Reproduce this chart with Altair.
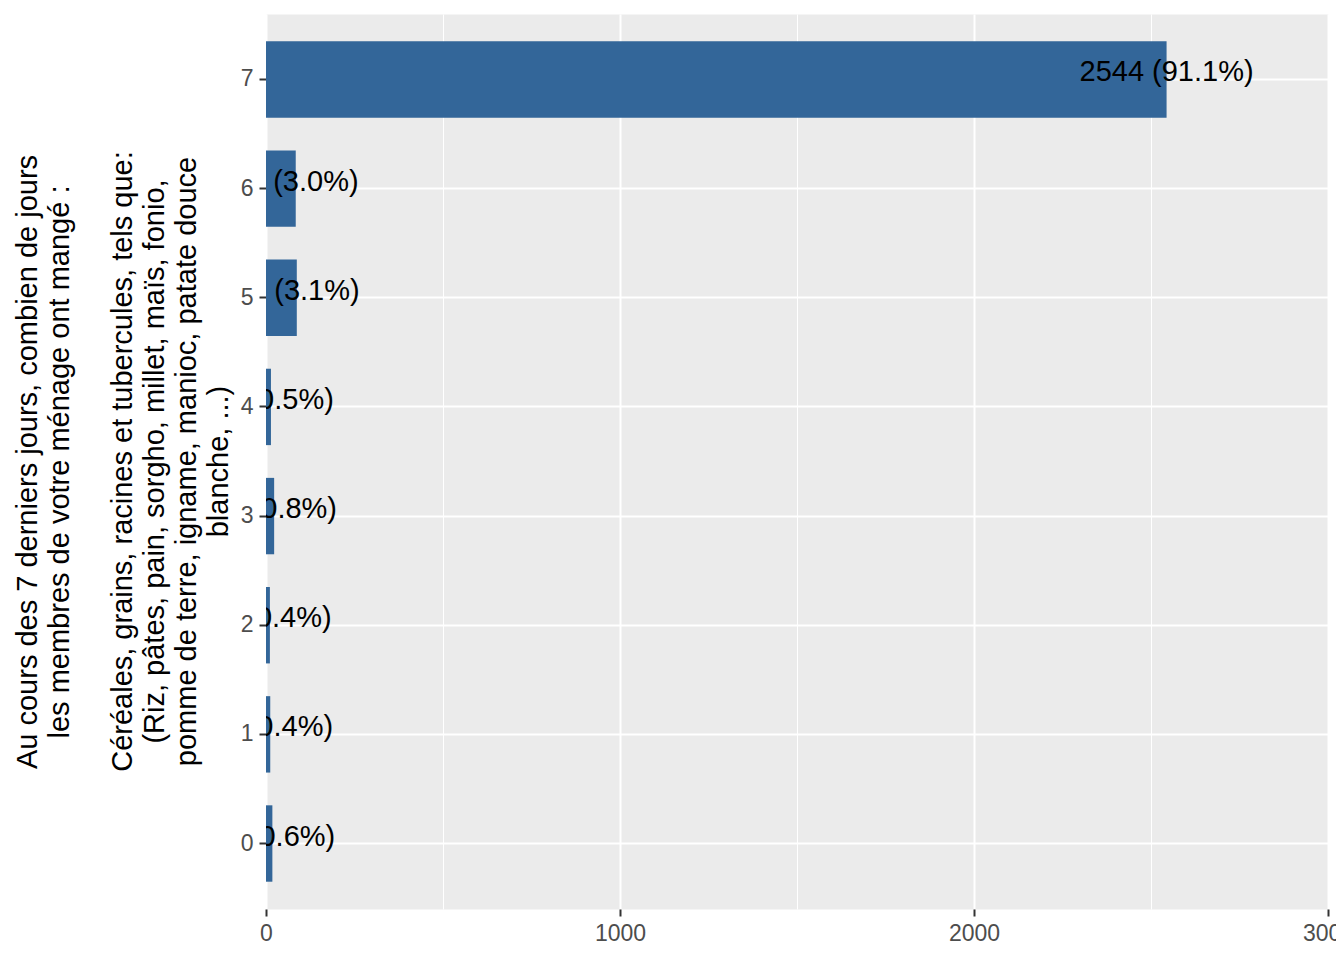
import altair as alt
import pandas as pd

days = ["0", "1", "2", "3", "4", "5", "6", "7"]
counts = [18, 12, 11, 23, 14, 87, 84, 2544]
major_ticks = [0, 1000, 2000, 3000]
minor_ticks = [500, 1500, 2500]
title_question = [
    "Au cours des 7 derniers jours, combien de jours",
    "les membres de votre ménage ont mangé :",
]
title_group = [
    "Céréales, grains, racines et tubercules, tels que:",
    "(Riz, pâtes, pain, sorgho, millet, maïs, fonio,",
    "pomme de terre, igname, manioc, patate douce",
    "blanche, ...)",
]

total = sum(counts)
labels = [f"{c} ({c / total * 100:.1f}%)" for c in counts]
df = pd.DataFrame({"day": days, "n": counts, "label": labels})

FONT = "Liberation Sans"
W, H = 1062, 895
LH = 32

y_enc = alt.Y(
    "day:N",
    sort="descending",
    scale=alt.Scale(paddingInner=0.3, paddingOuter=0.25),
    axis=alt.Axis(
        title=title_question,
        titleFontSize=29,
        titleFont=FONT,
        titleColor="black",
        titleFontWeight="normal",
        titleLineHeight=LH,
        titleX=-239,
        titleY=H / 2,
        titleBaseline="middle",
        titleAlign="center",
        labelFontSize=23,
        labelFont=FONT,
        labelColor="#4D4D4D",
        labelPadding=6,
        labelAngle=0,
        tickSize=7,
        tickColor="#333333",
        tickWidth=2,
        domain=False,
        grid=True,
        gridColor="white",
        gridWidth=2,
    ),
)

x_scale = alt.Scale(domain=[0, 3000], nice=False, zero=True)

bars = alt.Chart(df).mark_bar(color="#336699").encode(
    x=alt.X(
        "n:Q",
        scale=x_scale,
        axis=alt.Axis(
            values=major_ticks,
            format="d",
            title=None,
            labelFontSize=23,
            labelFont=FONT,
            labelColor="#4D4D4D",
            labelPadding=6,
            labelFlush=False,
            tickSize=7,
            tickColor="#333333",
            tickWidth=2,
            domain=False,
            grid=True,
            gridColor="white",
            gridWidth=2,
        ),
    ),
    y=y_enc,
)

texts = alt.Chart(df).mark_text(
    clip=True, fontSize=29, font=FONT, color="black",
    baseline="alphabetic", align="center", dy=2,
).encode(
    x=alt.X("n:Q", scale=x_scale, axis=None),
    y=alt.Y("day:N", sort="descending"),
    text="label:N",
)

minor = alt.Chart(df).mark_rule(opacity=0).encode(
    x=alt.X(
        "n:Q",
        scale=x_scale,
        axis=alt.Axis(
            values=minor_ticks,
            orient="top",
            grid=True,
            gridColor="white",
            gridWidth=1,
            labels=False,
            ticks=False,
            domain=False,
            title=None,
        ),
    ),
)

group_title = alt.Chart(pd.DataFrame({"k": [0]})).mark_text(
    text=title_group, angle=270, fontSize=29, font=FONT, color="black",
    lineHeight=LH, align="center", baseline="middle",
).encode(
    x=alt.value(-239 + 3 * LH),
    y=alt.value(H / 2),
)

chart = (
    alt.layer(minor, bars, texts, group_title)
    .resolve_axis(x="independent")
    .properties(
        width=W,
        height=H,
        autosize=alt.AutoSizeParams(type="none"),
        padding={"left": 258, "top": 6, "right": 8, "bottom": 45},
    )
    .configure_view(fill="#EBEBEB", stroke="transparent")
)

chart.save("out.html", embed_options={"renderer": "svg", "actions": False})
